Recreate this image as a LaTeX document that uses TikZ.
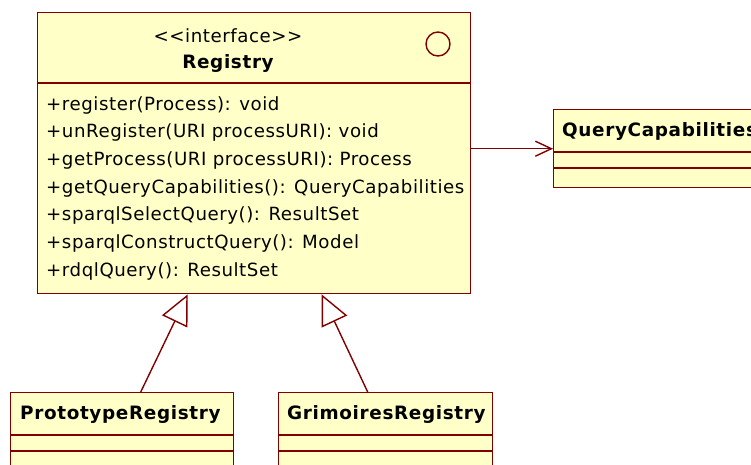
\documentclass[tikz,border=0pt]{standalone}
\usepackage{fontspec}
\setmainfont{DejaVu Sans}[LetterSpace=3, Ligatures=NoCommon]
\newfontfamily\namefont{DejaVu Sans}[LetterSpace=3.5]
\usetikzlibrary{arrows.meta}

\definecolor{umlfill}{RGB}{255,255,200}
\definecolor{umlline}{RGB}{128,0,0}

\tikzset{
  classbox/.style = {draw = umlline, fill = umlfill, line width = 1.4pt,
    inner sep = 0pt, anchor = north west},
  label/.style = {inner sep = 0pt, font = \fontsize{18.2}{20}\selectfont},
  classname/.style = {label, font = \namefont\fontsize{18.4}{20}\selectfont\bfseries},
  divider/.style = {umlline, line width = 1.4pt},
  realizes/.style = {umlline, line width = 1.4pt,
    -{Triangle[open, length = 30pt, width = 28pt, fill = white]}},
  uses/.style = {umlline, line width = 1.4pt,
    -{Straight Barb[length = 16pt, width = 15pt]}}
}

\begin{document}
\begin{tikzpicture}[x = 1pt, y = -1pt]

\useasboundingbox ( 0, 0 ) rectangle ( 751, 464 );
\clip ( 0, 0 ) rectangle ( 751, 464 );

% Registry interface
\node (registry) at ( 37, 12 ) [classbox, minimum width = 433pt, minimum height = 281pt] {};
\draw [divider] ( 37, 83 ) -- ( 470, 83 );
\node (stereo) at ( 228, 36 ) [label] {{<}{<}interface{>}{>}};
\node (regname) at ( 228, 63 ) [classname] {Registry};
\draw [umlline, line width = 1.4pt] ( 438, 44 ) circle [radius = 12];
\node (ops) at ( 46, 96 ) [label, anchor = north west, align = left,
  font = \fontsize{18.2}{27.7}\selectfont] {%
  +register(Process): void\\
  +unRegister(URI processURI): void\\
  +getProcess(URI processURI): Process\\
  +getQueryCapabilities(): QueryCapabilities\\
  +sparqlSelectQuery(): ResultSet\\
  +sparqlConstructQuery(): Model\\
  +rdqlQuery(): ResultSet};

% Query capabilities class
\node (qcap) at ( 553, 109 ) [classbox, minimum width = 230pt, minimum height = 78pt] {};
\draw [divider] ( 553, 152 ) -- ++( 230, 0 );
\draw [divider] ( 553, 168 ) -- ++( 230, 0 );
\node (qcapname) at ( 562, 131 ) [classname, anchor = west] {QueryCapabilities};

% Implementing registries
\node (proto) at ( 10, 392 ) [classbox, minimum width = 223pt, minimum height = 90pt] {};
\draw [divider] ( 10, 435 ) -- ( 233, 435 );
\draw [divider] ( 10, 451 ) -- ( 233, 451 );
\node (protoname) at ( 20, 414 ) [classname, anchor = west] {PrototypeRegistry};

\node (grim) at ( 278, 392 ) [classbox, minimum width = 214pt, minimum height = 90pt] {};
\draw [divider] ( 278, 435 ) -- ( 492, 435 );
\draw [divider] ( 278, 451 ) -- ( 492, 451 );
\node (grimname) at ( 287, 414 ) [classname, anchor = west] {GrimoiresRegistry};

% Relations
\draw [uses] (qcap.west -| registry.east) -- (qcap.west);
\draw [realizes] ([xshift = 18.5pt]proto.north) -- ([xshift = -66.5pt]registry.south);
\draw [realizes] ([xshift = -18pt]grim.north) -- ([xshift = 67.5pt]registry.south);

\end{tikzpicture}
\end{document}
